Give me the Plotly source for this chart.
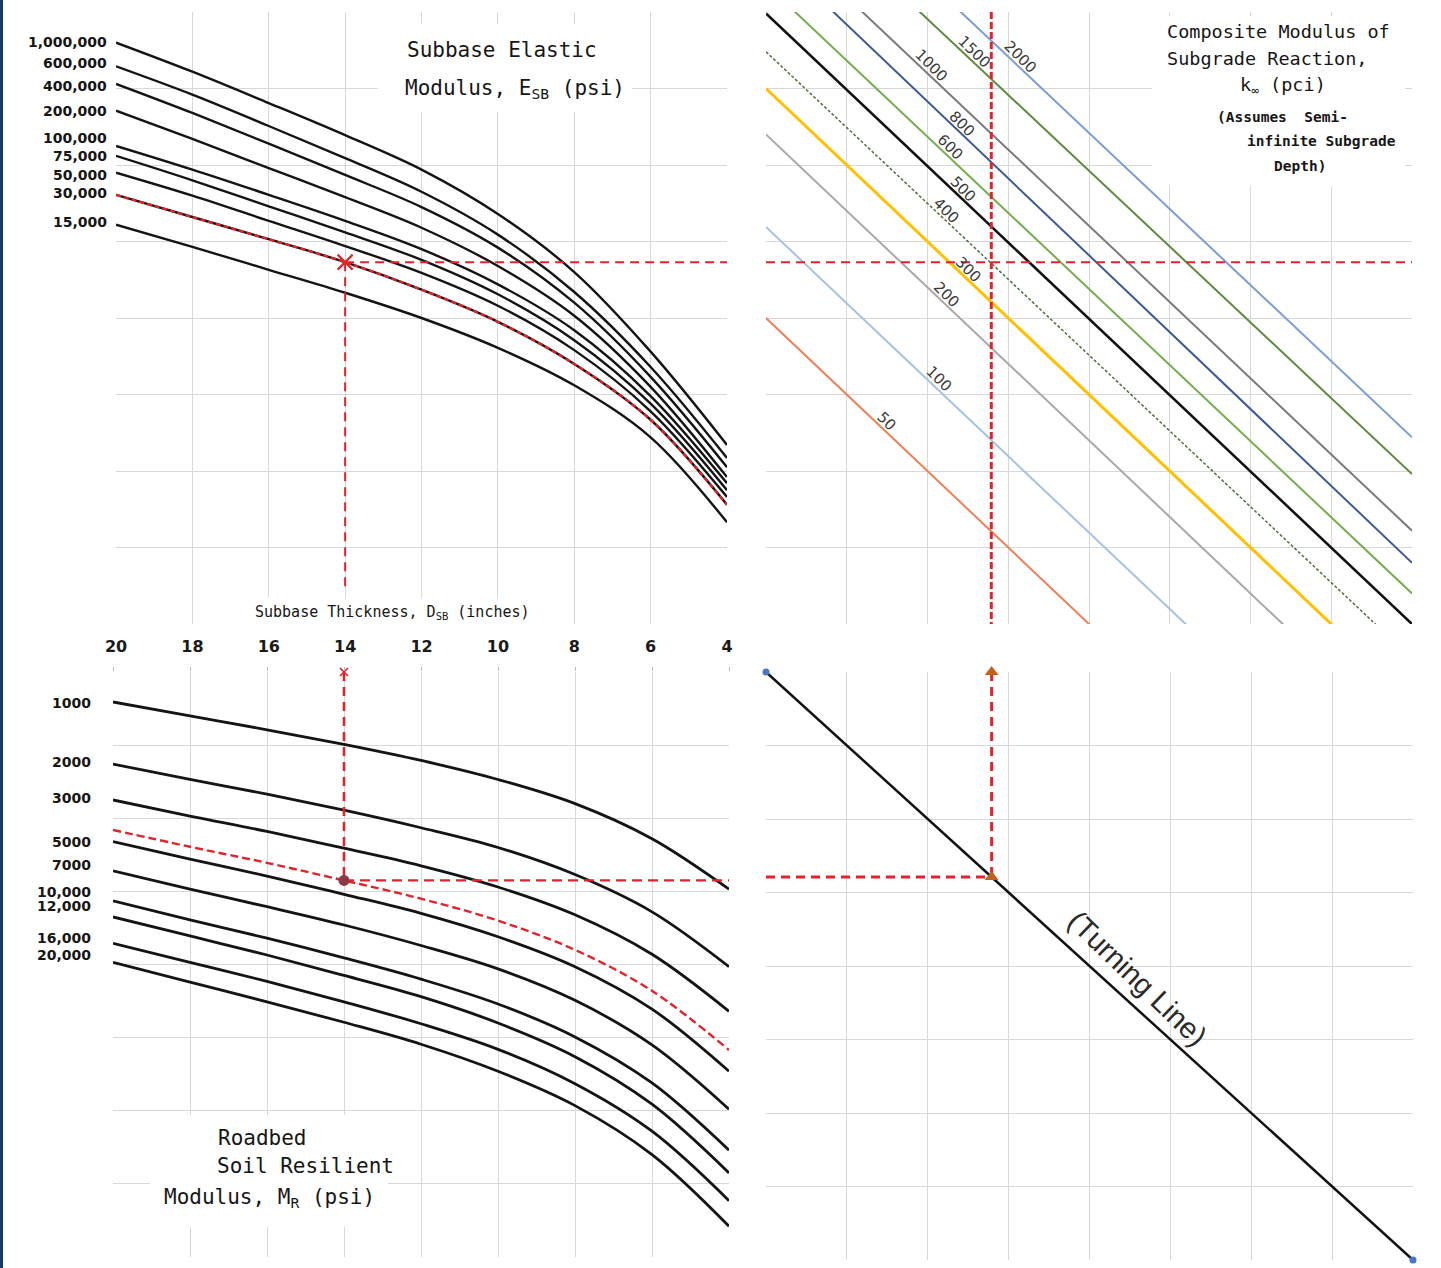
import plotly.graph_objects as go

W, H = 1441, 1268

# ------------------------------------------------------------------ data
thickness = [20, 18, 16, 14, 12, 10, 8, 6, 4]          # subbase thickness D_SB (in)

esb_labels = ["1,000,000", "600,000", "400,000", "200,000", "100,000",
              "75,000", "50,000", "30,000", "15,000"]
esb_1000000 = [7.60, 7.22, 6.81, 6.39, 5.94, 5.36, 4.60, 3.56, 2.34]
esb_600000 = [7.29, 6.92, 6.51, 6.09, 5.65, 5.09, 4.34, 3.36, 2.17]
esb_400000 = [7.06, 6.68, 6.28, 5.87, 5.45, 4.92, 4.20, 3.23, 2.05]
esb_200000 = [6.71, 6.34, 5.96, 5.58, 5.18, 4.68, 4.03, 3.10, 1.92]
esb_100000 = [6.25, 5.94, 5.61, 5.27, 4.90, 4.44, 3.84, 2.98, 1.84]
esb_75000 = [6.12, 5.80, 5.46, 5.12, 4.76, 4.31, 3.71, 2.88, 1.75]
esb_50000 = [5.90, 5.60, 5.27, 4.94, 4.59, 4.16, 3.58, 2.78, 1.66]
esb_30000 = [5.61, 5.32, 5.03, 4.73, 4.37, 3.95, 3.40, 2.67, 1.56]
esb_15000 = [5.22, 4.93, 4.63, 4.33, 4.00, 3.61, 3.12, 2.44, 1.33]
esb_curves = [esb_1000000, esb_600000, esb_400000, esb_200000, esb_100000,
              esb_75000, esb_50000, esb_30000, esb_15000]

mr_labels = ["1000", "2000", "3000", "5000", "7000", "10,000", "12,000", "16,000", "20,000"]
mr_1000 = [7.59, 7.40, 7.21, 7.01, 6.79, 6.53, 6.20, 5.72, 5.03]
mr_2000 = [6.74, 6.53, 6.33, 6.11, 5.87, 5.60, 5.23, 4.72, 3.97]
mr_3000 = [6.25, 6.03, 5.82, 5.59, 5.35, 5.06, 4.68, 4.14, 3.36]
mr_5000 = [5.68, 5.44, 5.21, 4.96, 4.70, 4.38, 3.97, 3.39, 2.54]
mr_7000 = [5.28, 5.03, 4.79, 4.54, 4.26, 3.94, 3.51, 2.90, 2.02]
mr_10000 = [4.87, 4.61, 4.36, 4.09, 3.80, 3.46, 3.01, 2.38, 1.46]
mr_12000 = [4.65, 4.39, 4.13, 3.85, 3.56, 3.20, 2.74, 2.09, 1.15]
mr_16000 = [4.29, 4.03, 3.77, 3.49, 3.19, 2.84, 2.37, 1.72, 0.77]
mr_20000 = [4.03, 3.76, 3.49, 3.21, 2.91, 2.54, 2.07, 1.40, 0.42]
mr_curves = [mr_1000, mr_2000, mr_3000, mr_5000, mr_7000, mr_10000,
             mr_12000, mr_16000, mr_20000]
mr_design = [5.84, 5.61, 5.39, 5.15, 4.90, 4.60, 4.20, 3.64, 2.83]   # red dashed curve

k_labels = ["50", "100", "200", "300", "400", "500", "600", "800", "1000", "1500", "2000"]
k_left = [4.00, 5.19, 6.40, 7.00, 7.48, 7.98, 8.36, 8.84, 9.19, 9.89, 10.40]
k_right = [-4.00, -2.80, -1.60, -1.00, -0.45, 0.00, 0.40, 0.80, 1.22, 1.96, 2.44]
k_label_pos = [1.49, 2.14, 2.24, 2.51, 2.24, 2.44, 2.28, 2.43, 2.04, 2.58, 3.15]

turning_x = [0, 8]
turning_y = [8, 0]

design_thickness = 14
design_esb_index = 7          # 30,000 psi curve
design_k = 2.79               # composite k reading (top-right / bottom-right x)

# ------------------------------------------------------------------ styling
GRID = "#d8d8da"
RED = "#e3232b"
k_colors = ["#ea8159", "#a3c2e4", "#a8a8a8", "#ffc000", "#4f6e3c", "#111111",
            "#74ad4e", "#3d5b93", "#7a7a7a", "#5d8a3f", "#7b9dd3"]
k_widths = [2, 2, 2, 3, 1.5, 2.6, 2, 2, 2, 2, 2]
k_dash = ["solid", "solid", "solid", "solid", "3px,2px", "solid",
          "solid", "solid", "solid", "solid", "solid"]
esb_label_shift = [1, 3, -2, 0, 8, 0, -2, 2, 3]
mr_label_shift = [-1, 2, 2, 0, 6, 9, 11, 5, 7]
SMOOTH = 1.0

PANELS = {  # pixel boxes: left, right, top, bottom
    "TL": (116, 727, 12, 624),
    "TR": (766, 1412, 12, 624),
    "BL": (113, 729, 672, 1257),
    "BR": (766, 1413, 672, 1260),
}
RANGES = {
    "TL": ((20, 4), (0, 8)),
    "TR": ((0, 8), (0, 8)),
    "BL": ((20, 4), (0, 8)),
    "BR": ((0, 8), (0, 8)),
}
AX = {"TL": ("x", "y"), "TR": ("x2", "y2"), "BL": ("x3", "y3"), "BR": ("x4", "y4")}


def dom(p):
    x0, x1, y0, y1 = PANELS[p]
    return [x0 / W, x1 / W], [1 - y1 / H, 1 - y0 / H]


def to_data(p, px, py):
    x0, x1, y0, y1 = PANELS[p]
    (a, b), (c, d) = RANGES[p]
    return (a + (px - x0) / (x1 - x0) * (b - a),
            d - (py - y0) / (y1 - y0) * (d - c))


fig = go.Figure()


def add(p, **kw):
    xa, ya = AX[p]
    fig.add_trace(go.Scatter(xaxis=xa, yaxis=ya, hoverinfo="skip", **kw))


# ---------------- top-left: subbase elastic modulus curves
for i, curve in enumerate(esb_curves):
    add("TL", x=thickness, y=curve, mode="lines",
        line=dict(color="#141414", width=2.4, shape="spline", smoothing=SMOOTH))
esb_design = esb_curves[design_esb_index]
add("TL", x=thickness, y=esb_design, mode="lines",
    line=dict(color=RED, width=2.4, dash="5px,3px", shape="spline", smoothing=SMOOTH))
esb_level = esb_design[thickness.index(design_thickness)]
_, tl_vend = to_data("TL", 0, 588)
add("TL", x=[design_thickness, design_thickness], y=[esb_level, tl_vend], mode="lines",
    line=dict(color=RED, width=2, dash="9px,6px"))
add("TL", x=[design_thickness, thickness[-1]], y=[esb_level, esb_level], mode="lines",
    line=dict(color=RED, width=2, dash="9px,6px"))
add("TL", x=[design_thickness], y=[esb_level], mode="markers",
    marker=dict(symbol="x-thin-open", size=15, color=RED, line=dict(color=RED, width=2.2)))

# ---------------- top-right: composite k lines
for i in range(len(k_labels)):
    add("TR", x=[0, 8], y=[k_left[i], k_right[i]], mode="lines",
        line=dict(color=k_colors[i], width=k_widths[i], dash=k_dash[i]))
add("TR", x=[design_k, design_k], y=[8, 0], mode="lines",
    line=dict(color=RED, width=3, dash="7px,3px"))
add("TR", x=[0, 8], y=[esb_level, esb_level], mode="lines",
    line=dict(color=RED, width=2, dash="9px,6px"))

# ---------------- bottom-left: roadbed resilient modulus curves
for i, curve in enumerate(mr_curves):
    add("BL", x=thickness, y=curve, mode="lines",
        line=dict(color="#141414", width=2.8, shape="spline", smoothing=SMOOTH))
add("BL", x=thickness, y=mr_design, mode="lines",
    line=dict(color=RED, width=2.4, dash="8px,4px", shape="spline", smoothing=SMOOTH))
mr_level = mr_design[thickness.index(design_thickness)]
add("BL", x=[design_thickness, design_thickness], y=[8, mr_level], mode="lines",
    line=dict(color=RED, width=2.6, dash="9px,6px"))
add("BL", x=[design_thickness, thickness[-1]], y=[mr_level, mr_level], mode="lines",
    line=dict(color=RED, width=2.2, dash="10px,6px"))
add("BL", x=[design_thickness], y=[mr_level], mode="markers",
    marker=dict(symbol="circle", size=11, color="#8c3a47"))
add("BL", x=[design_thickness], y=[8], mode="markers",
    marker=dict(symbol="x-thin-open", size=8, color=RED, line=dict(color=RED, width=1.6)),
    cliponaxis=False)

# ---------------- bottom-right: turning line
add("BR", x=turning_x, y=turning_y, mode="lines+markers",
    line=dict(color="#111111", width=2.5),
    marker=dict(size=7, color="#4a74c4"), cliponaxis=False)
turn_y = turning_y[0] + (turning_y[1] - turning_y[0]) * (design_k - turning_x[0]) / (turning_x[1] - turning_x[0])
add("BR", x=[design_k, design_k], y=[turning_y[0], turn_y], mode="lines",
    line=dict(color=RED, width=3, dash="9px,6px"))
add("BR", x=[turning_x[0], design_k], y=[turn_y, turn_y], mode="lines",
    line=dict(color=RED, width=3, dash="9px,6px"))
add("BR", x=[design_k, design_k], y=[turning_y[0], turn_y], mode="markers",
    marker=dict(symbol="triangle-up", size=12, color="#c0621e"), cliponaxis=False)

# ---------------- axes
axis_common = dict(showgrid=True, gridcolor=GRID, gridwidth=1.3, zeroline=False,
                   showline=False, ticks="", showticklabels=False, fixedrange=True,
                   automargin=False)
layout_axes = {}
for idx, p in enumerate(["TL", "TR", "BL", "BR"]):
    sx = "" if idx == 0 else str(idx + 1)
    xd, yd = dom(p)
    (xa, xb), (ya, yb) = RANGES[p]
    layout_axes["xaxis" + sx] = dict(axis_common, domain=xd, range=[xa, xb], tick0=0,
                                     dtick=2 if p in ("TL", "BL") else 1,
                                     anchor="y" + sx)
    layout_axes["yaxis" + sx] = dict(axis_common, domain=yd, range=[ya, yb], tick0=0,
                                     dtick=1, anchor="x" + sx)
layout_axes["xaxis"].update(showticklabels=True, tickvals=thickness,
                            ticktext=[str(t) for t in thickness],
                            tickfont=dict(family="DejaVu Sans", size=16, color="#1a1a1a", weight="bold"),
                            ticklabelstandoff=11)
layout_axes["xaxis3"].update(side="top", ticks="outside", ticklen=4, tickcolor="#bdbdbd",
                             tickvals=thickness)

fig.update_layout(width=W, height=H, autosize=False,
                  margin=dict(l=0, r=0, t=0, b=0, pad=0, autoexpand=False),
                  paper_bgcolor="white", plot_bgcolor="white", showlegend=False,
                  **layout_axes)

# ---------------- white masks behind the titles
def mask(p, x0, y0, x1, y1):
    xa, ya = AX[p]
    dx0, dy0 = to_data(p, x0, y0)
    dx1, dy1 = to_data(p, x1, y1)
    fig.add_shape(type="rect", xref=xa, yref=ya, x0=dx0, x1=dx1, y0=dy0, y1=dy1,
                  fillcolor="white", line=dict(width=0), layer="between")


mask("TL", 378, 24, 632, 112)
mask("TL", 245, 598, 538, 630)
mask("TR", 1152, 16, 1405, 186)
mask("BL", 150, 1115, 388, 1227)

# ---------------- annotations
MONO = "DejaVu Sans Mono"
TXT = "#161616"


def label_px(text, px, py, size, anchor="left", weight="normal", family=MONO, color=TXT):
    fig.add_annotation(xref="paper", yref="paper", x=px / W, y=1 - py / H, text=text,
                       showarrow=False, xanchor=anchor, yanchor="middle",
                       font=dict(family=family, size=size, color=color, weight=weight))


for i, lab in enumerate(esb_labels):
    fig.add_annotation(xref="x", yref="y", x=thickness[0], y=esb_curves[i][0], text=lab,
                       showarrow=False, xanchor="right", yanchor="middle",
                       xshift=-7, yshift=esb_label_shift[i],
                       font=dict(family="DejaVu Sans", size=14, color="#151515", weight="bold"))
for i, lab in enumerate(mr_labels):
    fig.add_annotation(xref="x3", yref="y3", x=thickness[0], y=mr_curves[i][0], text=lab,
                       showarrow=False, xanchor="right", yanchor="middle",
                       xshift=-20, yshift=mr_label_shift[i],
                       font=dict(family="DejaVu Sans", size=14, color="#151515", weight="bold"))
for i, lab in enumerate(k_labels):
    xl = k_label_pos[i]
    yl = k_left[i] + (k_right[i] - k_left[i]) * xl / 8
    fig.add_annotation(xref="x2", yref="y2", x=xl, y=yl, text=lab, showarrow=False,
                       textangle=45, yshift=11,
                       font=dict(family="DejaVu Sans", size=15, color="#3a3a3a"))

label_px("Subbase Elastic", 405, 50, 21)
label_px("Modulus, E<sub>SB</sub> (psi)", 403, 89, 21)
label_px("Subbase Thickness, D<sub>SB</sub> (inches)", 253, 612, 15)

label_px("Composite Modulus of", 1165, 32, 18.5)
label_px("Subgrade Reaction,", 1165, 58, 18.5)
label_px("k<sub>∞</sub> (pci)", 1238, 86, 18.5)
label_px("(Assumes  Semi-", 1215, 117, 14.5, weight="bold")
label_px("infinite Subgrade", 1245, 141, 14.5, weight="bold")
label_px("Depth)", 1272, 166, 14.5, weight="bold")

label_px("Roadbed", 216, 1138, 21)
label_px("Soil Resilient", 215, 1166, 21)
label_px("Modulus, M<sub>R</sub> (psi)", 162, 1198, 21)

tx, ty = to_data("BR", 1137, 978)
fig.add_annotation(xref="x4", yref="y4", x=tx, y=ty, text="(Turning Line)", showarrow=False,
                   textangle=44, font=dict(family="Liberation Sans", size=29, color="#2a2a2a"))

# left-edge frame strip
fig.add_shape(type="rect", xref="paper", yref="paper", x0=0, x1=3 / W, y0=0, y1=1,
              fillcolor="#17386f", line=dict(width=0), layer="above")

fig.write_html("out.html", config={"displayModeBar": False, "responsive": False},
               post_script="document.body.style.margin='0';"
                           "document.documentElement.style.overflow='hidden';"
                           "document.body.style.overflow='hidden';")
